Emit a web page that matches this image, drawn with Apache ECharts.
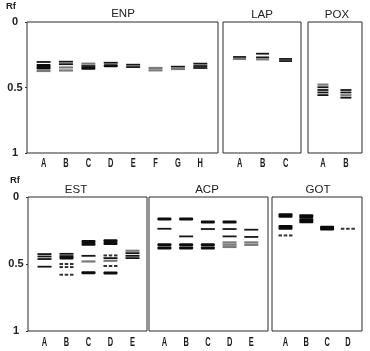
<!DOCTYPE html>
<html>
<head>
<meta charset="utf-8">
<script src="https://cdn.jsdelivr.net/npm/echarts@6/dist/echarts.min.js"></script>
<style>
html,body{margin:0;padding:0;background:#fff;}
#chart{width:370px;height:351px;}
</style>
</head>
<body>
<div id="chart"></div>
<script>
// ---- Data (Rf values; intensity: 4 very strong, 3 strong, 2 medium, 1 weak, 0 trace) ----
const rfTicks = [0, 0.5, 1];
const rfTickLabels = ['0', '0.5', '1'];

const enpLanes = ['A','B','C','D','E','F','G','H'];
const enpBands = [
  [0,0.305,2],[0,0.332,3],[0,0.352,3],[0,0.374,1],
  [1,0.303,2],[1,0.322,2],[1,0.347,1],[1,0.370,1],
  [2,0.318,1],[2,0.336,2],[2,0.354,3],
  [3,0.311,2],[3,0.334,3],
  [4,0.326,2],[4,0.344,2],
  [5,0.351,1],[5,0.369,1],
  [6,0.341,2],[6,0.359,1],
  [7,0.318,2],[7,0.336,2],[7,0.351,2]
];

const lapLanes = ['A','B','C'];
const lapBands = [
  [0,0.267,2],[0,0.282,1],
  [1,0.242,2],[1,0.270,2],[1,0.285,1],
  [2,0.282,2],[2,0.298,2]
];

const poxLanes = ['A','B'];
const poxBands = [
  [0,0.478,1],[0,0.498,2],[0,0.519,2],[0,0.538,2],[0,0.558,2],
  [1,0.519,2],[1,0.538,2],[1,0.559,1],[1,0.578,2]
];

const estLanes = ['A','B','C','D','E'];
const estBands = [
  [0,0.426,2],[0,0.444,2],[0,0.463,2],[0,0.520,2],
  [1,0.424,2],[1,0.441,2],[1,0.456,3],[1,0.500,0],[1,0.523,0],[1,0.580,0],
  [2,0.332,3],[2,0.352,3],[2,0.439,2],[2,0.481,1],[2,0.565,3],
  [3,0.327,3],[3,0.347,3],[3,0.436,0],[3,0.456,2],[3,0.476,1],[3,0.515,0],[3,0.567,3],
  [4,0.401,1],[4,0.419,2],[4,0.439,2],[4,0.456,2]
];

const acpLanes = ['A','B','C','D','E'];
const acpBands = [
  [0,0.165,3],[0,0.237,2],[0,0.356,3],[0,0.380,3],
  [1,0.165,3],[1,0.294,2],[1,0.356,3],[1,0.380,3],
  [2,0.187,3],[2,0.239,2],[2,0.356,3],[2,0.380,3],
  [3,0.187,3],[3,0.239,2],[3,0.294,2],[3,0.339,1],[3,0.356,1],[3,0.373,1],
  [4,0.244,2],[4,0.298,2],[4,0.339,1],[4,0.357,1]
];

const gotLanes = ['A','B','C','D'];
const gotBands = [
  [0,0.138,4],[0,0.227,4],[0,0.287,0],
  [1,0.146,4],[1,0.178,4],
  [2,0.232,4],
  [3,0.237,0]
];

// ---- Layout ----
const panels = [
  {title:'ENP', lanes:enpLanes, bands:enpBands, grid:{left:27,top:22,width:191,height:131}, xr:[-0.74,7.79], bw:14, yLabels:true, titlePos:[123,14], lblY:163.5},
  {title:'LAP', lanes:lapLanes, bands:lapBands, grid:{left:223,top:22,width:78,height:131}, xr:[-0.72,2.67], bw:13, yLabels:false, titlePos:[262,15], lblY:163.5},
  {title:'POX', lanes:poxLanes, bands:poxBands, grid:{left:308,top:22,width:54,height:131}, xr:[-0.65,1.70], bw:11, yLabels:false, titlePos:[337,15], lblY:163.5},
  {title:'EST', lanes:estLanes, bands:estBands, grid:{left:28,top:197,width:119,height:134}, xr:[-0.75,4.66], bw:14, yLabels:true, titlePos:[76,190], lblY:342.5},
  {title:'ACP', lanes:acpLanes, bands:acpBands, grid:{left:149,top:197,width:119,height:134}, xr:[-0.71,4.77], bw:14, yLabels:false, titlePos:[207,190], lblY:342.5},
  {title:'GOT', lanes:gotLanes, bands:gotBands, grid:{left:272,top:197,width:90,height:134}, xr:[-0.65,3.68], bw:14, yLabels:false, titlePos:[318,190], lblY:342.5}
];

const bandH = {0:2, 1:2.2, 2:1.8, 3:3, 4:4.6};
const bandC = {0:'#333', 1:'#7a7a7a', 2:'#161616', 3:'#0d0d0d', 4:'#0a0a0a'};

function makeRender(bw){
  return function(params, api){
    const k = api.value(2);
    const p = api.coord([api.value(0), api.value(1)]);
    const h = bandH[k];
    const c = bandC[k];
    if (k === 0) {
      const dash = bw*0.25, gap = bw*0.125;
      const children = [];
      for (let i=0;i<3;i++){
        children.push({type:'rect', shape:{x:p[0]-bw/2+i*(dash+gap), y:p[1]-h/2, width:dash, height:h}, style:{fill:c}});
      }
      return {type:'group', children};
    }
    return {type:'rect', shape:{x:p[0]-bw/2, y:p[1]-h/2, width:bw, height:h, r:k>=3?1:0}, style:{fill:c}};
  };
}

const sansFont = "'Liberation Sans',Arial,sans-serif";
const grids=[], xAxes=[], yAxes=[], series=[], graphics=[];
panels.forEach((pn, i) => {
  grids.push(Object.assign({show:true, borderColor:'#2a2a2a', borderWidth:1, backgroundColor:'#fff', containLabel:false}, pn.grid));
  xAxes.push({
    type:'value', gridIndex:i, min:pn.xr[0], max:pn.xr[1], position:'bottom',
    axisLine:{show:false, onZero:false}, axisTick:{show:false}, splitLine:{show:false},
    axisLabel:{show:false}
  });
  yAxes.push({
    type:'value', gridIndex:i, min:0, max:1, inverse:true, position:'left',
    axisLine:{show:false, onZero:false}, splitLine:{show:false},
    axisTick:{show:pn.yLabels, customValues:rfTicks, length:2, lineStyle:{color:'#333'}},
    axisLabel:{show:pn.yLabels, customValues:rfTicks, formatter:(v)=>rfTickLabels[rfTicks.indexOf(v)],
      margin:12, align:'center', fontSize:11, fontWeight:'bold', color:'#222', fontFamily:sansFont}
  });
  series.push({
    type:'custom', xAxisIndex:i, yAxisIndex:i, renderItem:makeRender(pn.bw),
    data:pn.bands, silent:true, clip:false
  });
  graphics.push({type:'text', x:pn.titlePos[0], y:pn.titlePos[1],
    style:{text:pn.title, textAlign:'center', textVerticalAlign:'middle', fontSize:11.5, fill:'#222', fontFamily:sansFont}});
});
graphics.push({type:'text', x:11, y:6, style:{text:'Rf', textAlign:'center', textVerticalAlign:'middle', fontSize:9.5, fontWeight:'bold', fill:'#222', fontFamily:sansFont}});
graphics.push({type:'text', x:15, y:180, style:{text:'Rf', textAlign:'center', textVerticalAlign:'middle', fontSize:9.5, fontWeight:'bold', fill:'#222', fontFamily:sansFont}});

const chart = echarts.init(document.getElementById('chart'), null, {renderer:'canvas'});
chart.setOption({
  backgroundColor:'#fff',
  animation:false,
  grid:grids, xAxis:xAxes, yAxis:yAxes, series:series, graphic:graphics
});

// Lane letters placed through each panel's own x axis, drawn narrow like the original condensed type
const laneGraphics = [];
panels.forEach((pn, i) => {
  pn.lanes.forEach((name, j) => {
    const px = chart.convertToPixel({xAxisIndex:i}, j);
    laneGraphics.push({type:'text', x:px, y:pn.lblY, scaleX:0.62, scaleY:1,
      style:{text:name, textAlign:'center', textVerticalAlign:'middle', fontSize:12, fontWeight:'bold', fill:'#1a1a1a', fontFamily:sansFont}});
  });
});
chart.setOption({graphic: graphics.concat(laneGraphics)});
</script>
</body>
</html>
